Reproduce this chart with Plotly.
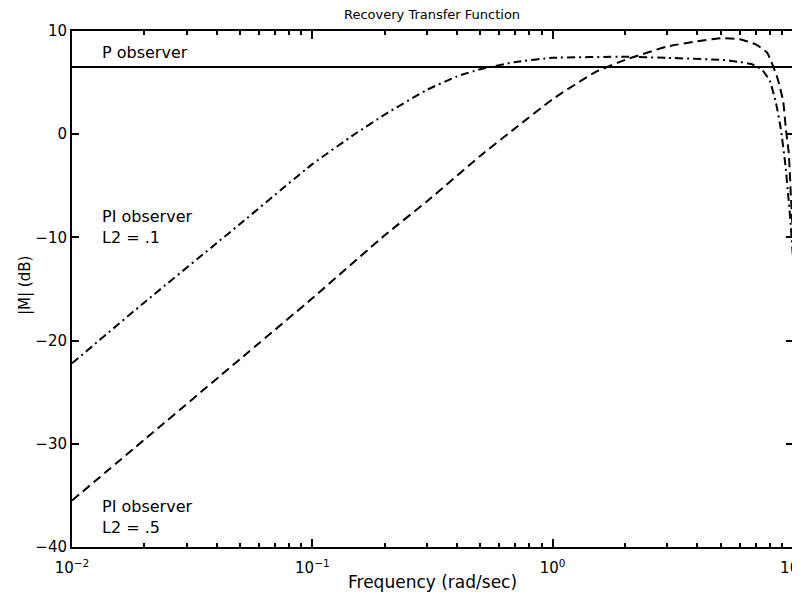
import plotly.graph_objects as go

# ---- data ----
freq_pi1 = [0.01, 0.02, 0.05, 0.1, 0.15, 0.2, 0.3, 0.4, 0.5, 0.7, 1.0, 2.0, 3.0,
            5.0, 6.0, 6.7, 7.4, 8.0, 8.5, 8.9, 9.3, 9.6, 9.8, 10.0]
mag_pi1 = [-22.2, -16.3, -8.7, -2.9, 0.0, 1.9, 4.3, 5.6, 6.3, 7.0, 7.4, 7.5, 7.4,
           7.2, 7.0, 6.8, 6.3, 5.2, 3.0, 0.5, -3.0, -6.5, -9.0, -12.0]

freq_pi5 = [0.01, 0.02, 0.05, 0.1, 0.2, 0.3, 0.5, 0.7, 1.0, 1.5, 2.0, 3.0, 4.0,
            5.0, 6.0, 7.0, 7.8, 8.6, 9.1, 9.35, 9.6, 9.8, 10.0]
mag_pi5 = [-35.5, -29.6, -21.8, -15.9, -9.8, -6.5, -2.1, 0.6, 3.4, 6.0, 7.2, 8.5, 9.0,
           9.3, 9.2, 8.7, 7.9, 5.5, 3.2, 0.4, -1.8, -6.0, -10.0]

freq_p = [0.01, 10.0]
mag_p = [6.5, 6.5]

x_tickvals = [0.01, 0.1, 1, 10]
x_ticktext = ["10<sup>\u22122</sup>", "10<sup>\u22121</sup>", "10<sup>0</sup>", "10<sup>1</sup>"]
y_tickvals = [-40, -30, -20, -10, 0, 10]

FONT = "DejaVu Sans"

fig = go.Figure()
fig.add_trace(go.Scatter(x=freq_p, y=mag_p, mode="lines",
                         line=dict(color="black", width=2), showlegend=False))
fig.add_trace(go.Scatter(x=freq_pi1, y=mag_pi1, mode="lines",
                         line=dict(color="black", width=2, dash="8px,4px,2px,4px",
                                   shape="spline", smoothing=0.4),
                         showlegend=False))
fig.add_trace(go.Scatter(x=freq_pi5, y=mag_pi5, mode="lines",
                         line=dict(color="black", width=2, dash="9px,5px",
                                   shape="spline", smoothing=0.4),
                         showlegend=False))

# the page body adds an 8px offset; size the figure so it fits the window exactly
fig.update_layout(
    width=792, height=594,
    margin=dict(l=64, r=7, t=23, b=55),
    paper_bgcolor="white", plot_bgcolor="white",
    font=dict(family=FONT, color="black", size=15),
    showlegend=False,
)
fig.update_xaxes(type="log", range=[-2, 1], showgrid=False, zeroline=False,
                 automargin=False,
                 showline=True, linecolor="black", linewidth=2, mirror="ticks",
                 ticks="inside", ticklen=8, tickwidth=1.5, tickcolor="black",
                 tickvals=x_tickvals, ticktext=x_ticktext,
                 ticklabelstandoff=6, ticklabeloverflow="allow",
                 tickfont=dict(family=FONT, size=15),
                 minor=dict(ticks="inside", ticklen=4, tickwidth=1.5, tickcolor="black",
                            dtick="D1", showgrid=False))
fig.update_yaxes(range=[-40, 10], showgrid=False, zeroline=False,
                 automargin=False,
                 showline=True, linecolor="black", linewidth=2, mirror="ticks",
                 ticks="inside", ticklen=7, tickwidth=1.5, tickcolor="black",
                 tickvals=y_tickvals, tickfont=dict(family=FONT, size=15))

ann = [
    dict(text="Recovery Transfer Function", x=0.499, y=1.032, xref="paper", yref="paper",
         xanchor="center", yanchor="middle", showarrow=False, font=dict(size=13)),
    dict(text="Frequency (rad/sec)", x=0.500, y=-0.068, xref="paper", yref="paper",
         xanchor="center", yanchor="middle", showarrow=False, font=dict(size=17)),
    dict(text="|M| (dB)", x=-0.065, y=0.506, xref="paper", yref="paper", textangle=-90,
         xanchor="center", yanchor="middle", showarrow=False, font=dict(size=15)),
    dict(text="P observer", x=-1.883, y=7.95, xref="x", yref="y",
         xanchor="left", yanchor="middle", showarrow=False, font=dict(size=16)),
    dict(text="PI observer<br>L2 = .1", x=-1.883, y=-9.0, xref="x", yref="y", align="left",
         xanchor="left", yanchor="middle", showarrow=False, font=dict(size=16)),
    dict(text="PI observer<br>L2 = .5", x=-1.883, y=-37.1, xref="x", yref="y", align="left",
         xanchor="left", yanchor="middle", showarrow=False, font=dict(size=16)),
]
fig.update_layout(annotations=ann)

fig.write_html("out.html")
